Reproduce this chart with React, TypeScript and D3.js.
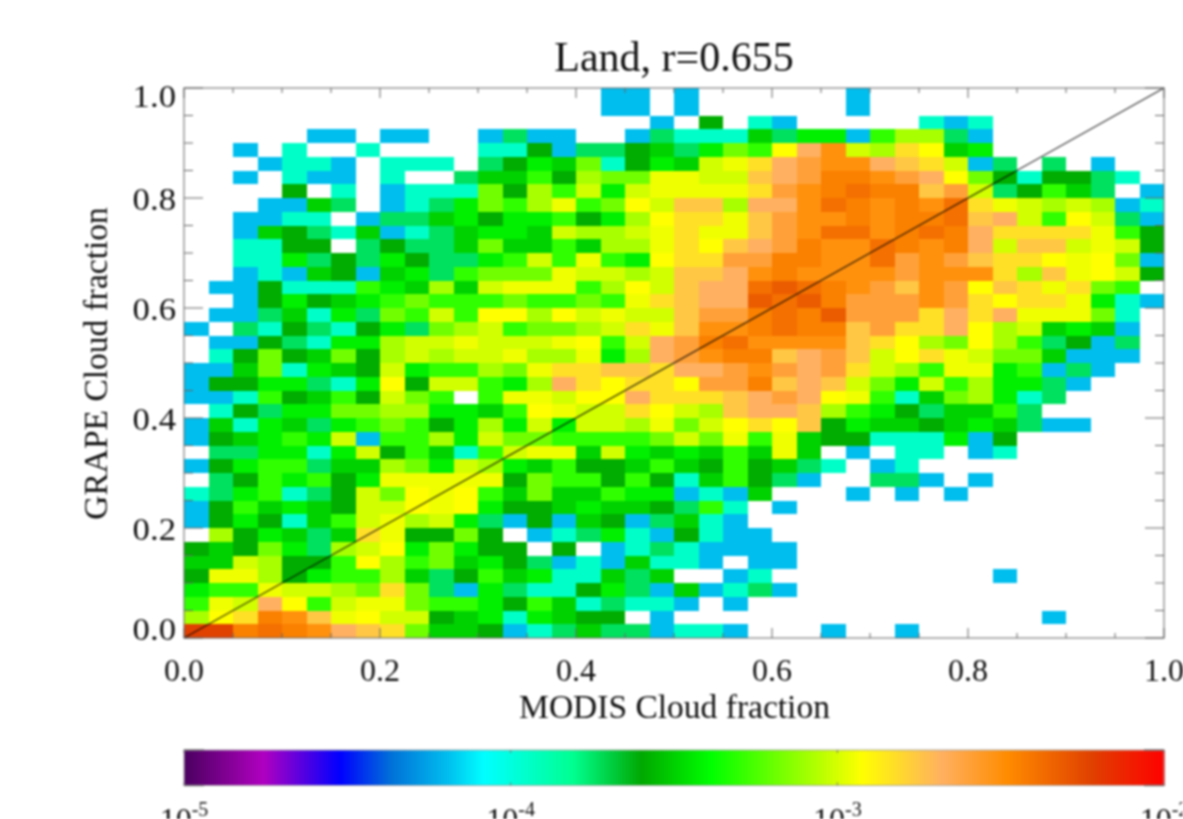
import React from "react";
import * as d3 from "d3";

const titleText = "Land, r=0.655";
const xLabel = "MODIS Cloud fraction";
const yLabel = "GRAPE Cloud fraction";
const axisTicks = [0, 0.2, 0.4, 0.6, 0.8, 1];
const minorTicks = d3.range(0, 21).map((d) => d / 20);
const barDecades = [1e-5, 1e-4, 1e-3, 1e-2];
const barExponents = ["-5", "-4", "-3", "-2"];

// Letter of each cell -> log10 of the density
const levelKeys = "abcdefghijklmnopqrstu";
const levelLogs = [-4.196, -3.95, -3.74, -3.59, -3.5, -3.425, -3.302, -3.185, -3.086, -3.011, -2.954, -2.927, -2.831, -2.756, -2.684, -2.6, -2.51, -2.441, -2.387, -2.318, -2.222];

// Colour bar: position along the bar and its colour
const barStops = [0, 0.08, 0.158, 0.21, 0.268, 0.305, 0.396, 0.466, 0.537, 0.691, 0.772, 0.839, 0.926, 1];
const barColors = ["#4b0060", "#b000c0", "#0000ff", "#0070d8", "#00beee", "#00ffff", "#00ff90", "#00a800", "#00ff00", "#ffff00", "#ffb060", "#ff8c00", "#e04000", "#ff0000"];

// 40 x 40 histogram, top row first, "." = no samples
const cellRows = [
  ".................aa.a......a............",
  ".................aa.a......a............",
  "...................a.d.ba.....bab.......",
  ".....aa.aa..acaa..acbbbecffagiica.......",
  "..a.b..b....bbdaccdecfhgloqjimlef.......",
  "...abba.bbb.cdfehbdfejkmopqqonmjac.c.a..",
  "..a.baa.b..ceegdihhkkjjnoprrqpolhdbddcb.",
  "....d.b.abbbhdigjfjkkkkmpqrsrrnpjcdgec.a",
  "...aaec.abcfhgikghljnniooqsrqrqsmkjijiab",
  "..aabb.accefdffgdfilmmknpqqrqrrsnojgljca",
  "..aedcbeabceffejiijkmkknpqssqrsrommmmkgd",
  "..bbdd.cdcceheegeiikmlnoprqqsrqrojnnjkjd",
  "..bbfcdcfdccfgjgkgflmmpprrqqspqpnmmlklha",
  "..abaedaefcghhhkjjijnnoqrqqqqpqqqminkljd",
  ".aadbbbgfeiejkkkgiljnoostsrqpnqplnmkmhg.",
  "..adfdefghggghgghgkmnootstrpppqpmlmmkfba",
  ".aacebfchgjglliljkjjnpprsrtpppmomokkkhb.",
  "a.cbdcbdfchijghhijmknqqrsrrnpmmolijefea.",
  ".aadcbffijjkjjjklgjoprsqqqqnmlihligcdac.",
  ".bdhdehdijijjkiikfiopqrrnopnjlmkjhheaaa.",
  "aaehbfedjfggihkmmnnmoopqpopmjigkkfgaca..",
  "addffcbfldjjgfiomlmmlpprnonjhfjgiffca...",
  "aabgdegdjhg.gkkjllommmnopolkgbehifbc....",
  ".bdcffhhiiffeglkjjmljinoonigfdceegc.....",
  "aebfecfghgdfifjfjjikhjlmlndfeedefecaa...",
  "adefgfjaggifjhhgggghjhkgkeddbbbfad......",
  ".ccffbfjdgebgjkkejfefegeke.a.bb.ab......",
  "adfggceeihfjifegddegedgdecb.ab..........",
  ".cdgfgdfkkkkkdhggdgdbegdca..cca.a.......",
  "bcfgbcdjhlklgeheegffabae...a.a.a........",
  "adgefedjjlklfddefeedcgb.a...............",
  "adfdbegjkijfcadaedaceba.................",
  ".idfecemkddhd.abcfbadbaa................",
  "dedhfcijlfhfdd.d.abcbaaaa...............",
  "eejiddglighefdcabaebba.aa...............",
  "dkkidfggiecdgefbbece..ab.........a......",
  "fggkjjihmhcafcbbdfcaeabca...............",
  "gkjolgjkkhggfdgebcbba.a.................",
  "ilmrqnkljjdefbfedd.a...............a....",
  "uursrqonmheedabceccabba...a..a..........",
];

const W = 1183;
const H = 819;
const x = d3.scaleLinear().domain([0, 1]).range([184, 1164]);
const y = d3.scaleLinear().domain([0, 1]).range([638, 88]);
const barX = d3.scaleLog().domain([1e-5, 1e-2]).range([184, 1164]);
const barT = d3.scaleLog().domain([1e-5, 1e-2]).range([0, 1]);
const color = d3.scaleLinear<string>().domain(barStops).range(barColors).interpolate(d3.interpolateRgb);
const BAR_TOP = 750;
const BAR_BOTTOM = 785.5;
const INK = "#666";
const FONT = "'Liberation Serif', 'Times New Roman', serif";
const isMajor = (t: number) => Math.abs(t * 5 - Math.round(t * 5)) < 1e-6;
const barSteps = d3.range(0, 490).map((i) => Math.pow(10, -5 + (3 * i) / 490));

export default function App() {
  const cells = cellRows.flatMap((row, r) =>
    row.split("").flatMap((ch, c) => {
      const k = levelKeys.indexOf(ch);
      if (k < 0) return [];
      return [{ r, c, fill: color(barT(Math.pow(10, levelLogs[k]))) }];
    })
  );
  const diagonal = d3.line<number>().x((d) => x(d)).y((d) => y(d))([0, 1]) ?? "";

  return (
    <svg
      width={W}
      height={H}
      viewBox={`0 0 ${W} ${H}`}
      style={{ position: "fixed", left: 0, top: 0, display: "block", background: "#fff", filter: "blur(0.9px)" }}
      fontFamily={FONT}
      fill="#111"
    >
      <g shapeRendering="crispEdges">
        {cells.map((d) => (
          <rect
            key={`${d.r}-${d.c}`}
            x={x(d.c / 40)}
            y={y(1 - d.r / 40)}
            width={x((d.c + 1) / 40) - x(d.c / 40)}
            height={y(1 - (d.r + 1) / 40) - y(1 - d.r / 40)}
            fill={d.fill}
          />
        ))}
      </g>

      <path d={diagonal} stroke="#000" strokeOpacity={0.8} strokeWidth={1.2} fill="none" />

      <rect x={x(0)} y={y(1)} width={x(1) - x(0)} height={y(0) - y(1)} fill="none" stroke={INK} strokeWidth={1} />

      {minorTicks.map((t) => {
        const major = isMajor(t);
        const lx = major ? 10 : 5;
        const ly = major ? 19 : 9;
        return (
          <g key={t} stroke={INK} strokeWidth={1}>
            <line x1={x(t)} x2={x(t)} y1={y(0)} y2={y(0) - lx} />
            <line x1={x(t)} x2={x(t)} y1={y(1)} y2={y(1) + lx} />
            <line x1={x(0)} x2={x(0) + ly} y1={y(t)} y2={y(t)} />
            <line x1={x(1)} x2={x(1) - ly} y1={y(t)} y2={y(t)} />
          </g>
        );
      })}

      <text x={674} y={71} fontSize={42} textAnchor="middle">{titleText}</text>

      {axisTicks.map((t) => (
        <text key={`x${t}`} x={x(t)} y={681} fontSize={32} textAnchor="middle">{t.toFixed(1)}</text>
      ))}
      {axisTicks.map((t) => (
        <text
          key={`y${t}`}
          transform={`translate(176,${y(t) + 12 + (t === 1 ? 7 : t === 0 ? -10 : 0)}) scale(1.12,1)`}
          fontSize={31}
          textAnchor="end"
        >
          {t.toFixed(1)}
        </text>
      ))}

      <text x={674.5} y={718} fontSize={33.5} textAnchor="middle">{xLabel}</text>
      <text transform={`translate(106.5,363.5) rotate(-90)`} fontSize={33.5} textAnchor="middle">{yLabel}</text>

      <g shapeRendering="crispEdges">
        {barSteps.map((v, i) => (
          <rect key={i} x={barX(v)} y={BAR_TOP} width={3} height={BAR_BOTTOM - BAR_TOP} fill={color(barT(v))} />
        ))}
      </g>
      <rect x={184} y={BAR_TOP} width={980} height={BAR_BOTTOM - BAR_TOP} fill="none" stroke="#aaa" strokeWidth={1} />
      {barDecades.map((v) => (
        <g key={v} stroke="#777" strokeWidth={1}>
          <line x1={barX(v)} x2={barX(v)} y1={BAR_TOP} y2={BAR_TOP + 3} />
          <line x1={barX(v)} x2={barX(v)} y1={BAR_BOTTOM} y2={BAR_BOTTOM - 3} />
        </g>
      ))}
      {[184, 1144].map((px) => (
        <g key={px} stroke="#777" strokeWidth={1.5}>
          <line x1={px} x2={px + 20} y1={BAR_TOP} y2={BAR_TOP} />
          <line x1={px} x2={px + 20} y1={BAR_BOTTOM} y2={BAR_BOTTOM} />
        </g>
      ))}
      {barDecades.map((v, i) => (
        <text key={`b${v}`} x={barX(v)} y={830} fontSize={32} textAnchor="middle">
          10
          <tspan dy={-14} fontSize={20}>{barExponents[i]}</tspan>
        </text>
      ))}
    </svg>
  );
}
